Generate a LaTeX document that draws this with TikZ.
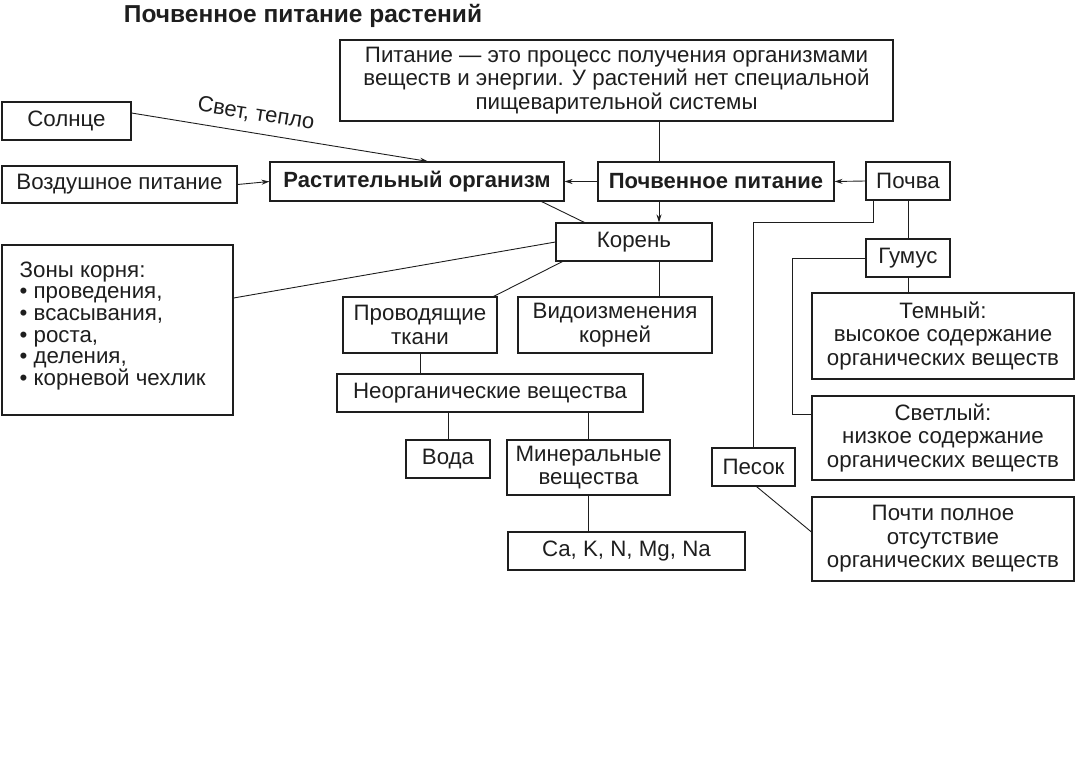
\documentclass[tikz,border=0pt]{standalone}
\usepackage{fontspec}
\setmainfont{Liberation Sans}
\usetikzlibrary{arrows.meta,calc}
\definecolor{ink}{RGB}{30,30,30}
\begin{document}
\begin{tikzpicture}[x=1pt,y=-1pt,
  box/.style={draw=ink, line width=1.1pt, inner sep=2pt, align=center, text=ink,
              font=\fontsize{22.3}{23.5}\selectfont},
  bbox/.style={box, font=\bfseries\fontsize{22}{23.5}\selectfont},
  conn/.style={draw=ink, line width=0.9pt},
  arr/.style={conn, -{Stealth[length=8pt,width=5pt]}}]
\useasboundingbox (0,0) rectangle (1081,781);
\coordinate (vx) at (659,0);
\coordinate (lx) at (792,0);
\coordinate (pk) at (0,222);

\node[font=\bfseries\fontsize{24.5}{28}\selectfont, text=ink] (title) at (303,16) {Почвенное питание растений};

\node[box, minimum width=553pt, minimum height=81pt] (top) at (616.5,80.5)
  {Питание — это процесс получения организмами\\веществ и энергии. У растений нет специальной\\пищеварительной системы};
\node[box, minimum width=129pt, minimum height=38pt] (sun) at (66.5,121) {Солнце};
\node[box, minimum width=235pt, minimum height=37pt] (air) at (119.5,184.5) {Воздушное питание};
\node[bbox, minimum width=294pt, minimum height=39pt] (rast) at (417,181.5) {Растительный организм};
\node[bbox, minimum width=236pt, minimum height=39pt] (pochpit) at (716,181.5) {Почвенное питание};
\node[box, minimum width=84pt, minimum height=38pt] (pochva) at (908,181) {Почва};
\node[box, minimum width=156pt, minimum height=38pt] (koren) at (634,242) {Корень};
\node[box, minimum width=231pt, minimum height=170pt] (zony) at (117.5,330) {};
\node[text=ink, font=\fontsize{22.3}{21.6}\selectfont, align=left, anchor=north west, inner sep=0pt]
  (zonytext) at ($(zony.north west)+(18,17)$)
  {Зоны корня:\\• проведения,\\• всасывания,\\• роста,\\• деления,\\• корневой чехлик};
\node[box, minimum width=154pt, minimum height=56pt] (provod) at (420,325) {Проводящие\\ткани};
\node[box, minimum width=194pt, minimum height=56pt] (vidoiz) at (615,325) {Видоизменения\\корней};
\node[box, minimum width=306pt, minimum height=38pt] (neorg) at (490,393) {Неорганические вещества};
\node[box, minimum width=84pt, minimum height=38pt] (voda) at (448,459) {Вода};
\node[box, minimum width=163pt, minimum height=55pt] (miner) at (588.5,467.5) {Минеральные\\вещества};
\node[box, minimum width=237pt, minimum height=38pt] (ca) at (626.5,551) {Ca, K, N, Mg, Na};
\node[box, minimum width=84pt, minimum height=38pt] (gumus) at (908,258) {Гумус};
\node[box, minimum width=262pt, minimum height=86pt] (temny) at (943,336) {Темный:\\высокое содержание\\органических веществ};
\node[box, minimum width=262pt, minimum height=84pt] (svetly) at (943,438) {Светлый:\\низкое содержание\\органических веществ};
\node[box, minimum width=262pt, minimum height=84pt] (pochti) at (943,539) {Почти полное\\отсутствие\\органических веществ};
\node[box, minimum width=83pt, minimum height=38pt] (pesok) at (753.5,467) {Песок};

\coordinate (svin) at ([yshift=24pt]svetly.west);

% connectors
\draw[arr] ([yshift=8pt]sun.east) -- ([xshift=11pt]rast.north);
\node[text=ink, font=\fontsize{22}{23}\selectfont, rotate=-9] (svet) at (256,114) {Свет, тепло};
\draw[arr] (air.east) -- (rast.west);
\draw[arr] (pochpit.west) -- (rast.east);
\draw[arr] (pochva.west) -- (pochpit.east);
\draw[conn] (top.south -| vx) -- (pochpit.north -| vx);
\draw[arr] (pochpit.south -| vx) -- (koren.north -| vx);
\draw[conn] ([xshift=-23pt]rast.south east) -- ([xshift=29pt]koren.north west);
\draw[conn] ([yshift=32pt]zony.east) -- (koren.west);
\draw[conn] ([xshift=7pt]koren.south west) -- ([xshift=-4pt]provod.north east);
\draw[conn] (koren.south -| vx) -- (vidoiz.north -| vx);
\draw[conn] (provod.south) -- (provod.south |- neorg.north);
\draw[conn] (voda.north) -- (voda.north |- neorg.south);
\draw[conn] (miner.north) -- (miner.north |- neorg.south);
\draw[conn] (miner.south) -- (miner.south |- ca.north);
\draw[conn] (pochva.south) -- (gumus.north);
\draw[conn] (gumus.south) -- (gumus.south |- temny.north);
\draw[conn] (gumus.west) -| (lx |- svin) -- (svin);
\draw[conn] ([xshift=-35pt]pochva.south) |- (pesok.north |- pk) -- (pesok.north);
\draw[conn] ([xshift=3pt]pesok.south) -- ([yshift=7pt]pochti.west);
\end{tikzpicture}
\end{document}
